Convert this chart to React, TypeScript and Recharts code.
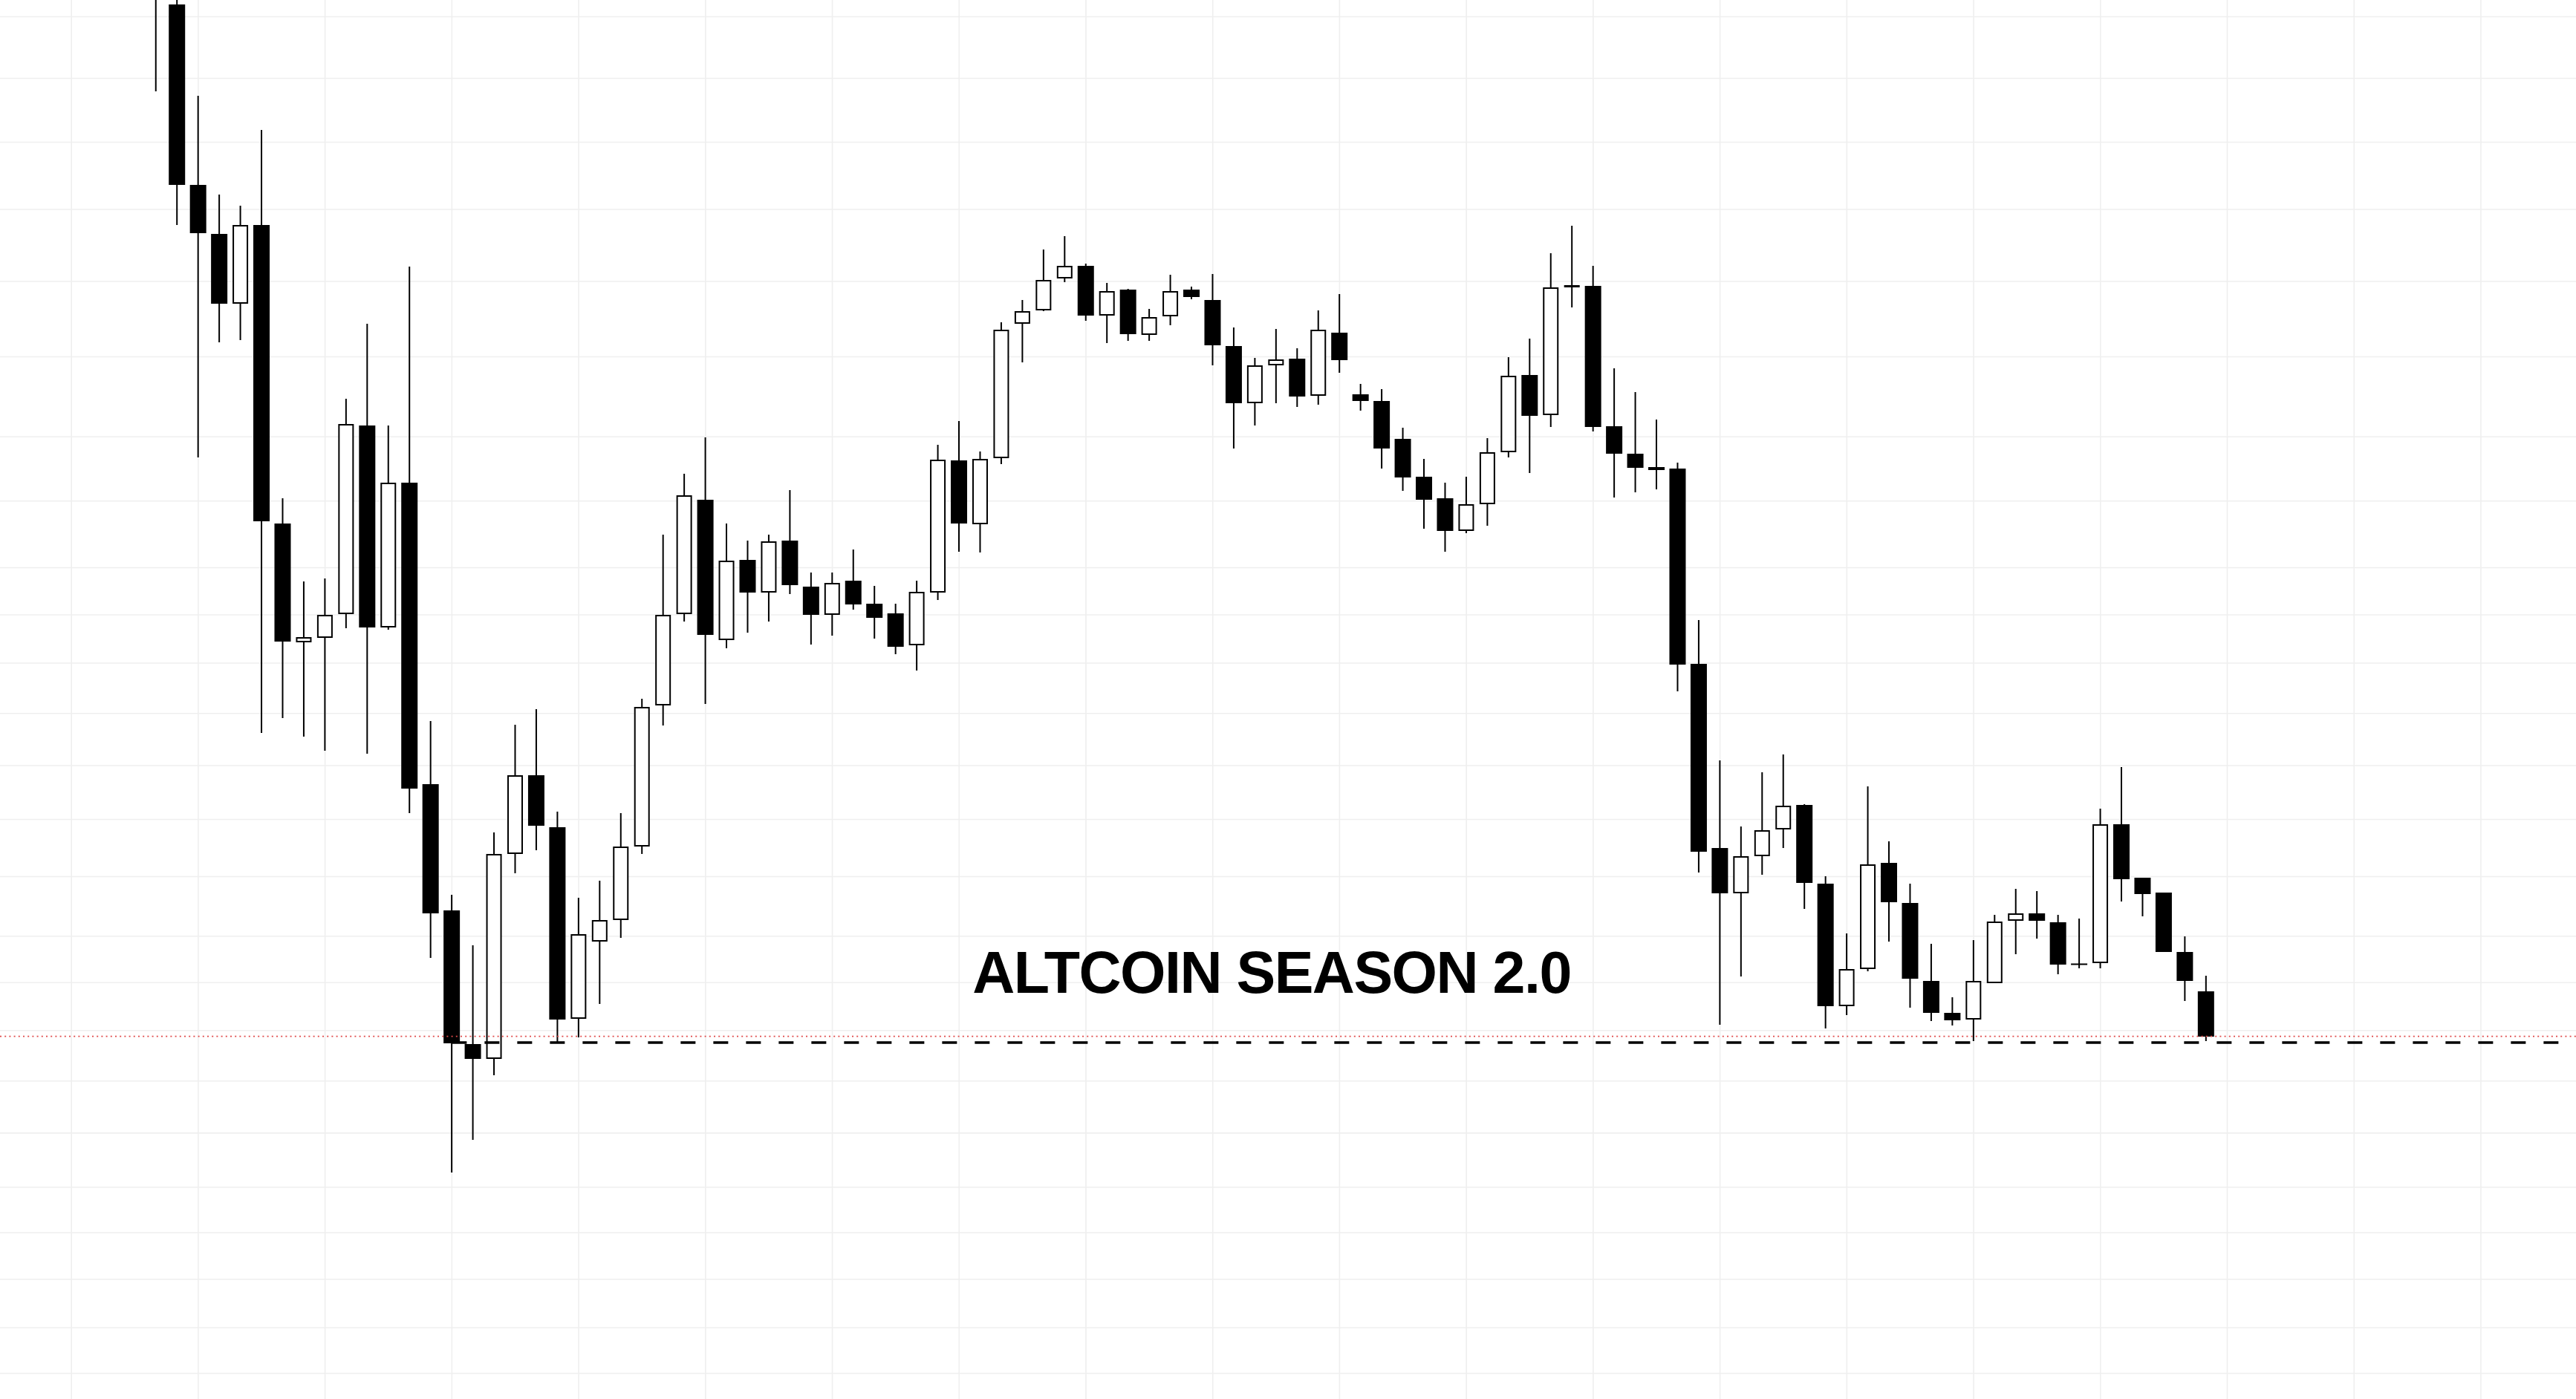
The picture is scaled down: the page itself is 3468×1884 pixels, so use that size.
import React from "react";
import {
  Bar,
  CartesianGrid,
  ComposedChart,
  ReferenceDot,
  ReferenceLine,
  XAxis,
  YAxis
} from "recharts";

// daily candles, price in chart units
const opens = [
  2300, 1994, 1751, 1685, 1591, 1697, 1295, 1135, 1141, 1173,
  1427, 1155, 1350, 944, 774, 594, 574, 850, 956, 886,
  628, 732, 761, 860, 1050, 1173, 1327, 1138, 1246, 1202,
  1272, 1210, 1172, 1218, 1187, 1174, 1131, 1202, 1380, 1294,
  1383, 1564, 1582, 1625, 1642, 1575, 1610, 1549, 1574, 1610,
  1596, 1534, 1457, 1508, 1517, 1467, 1552, 1469, 1460, 1409,
  1358, 1329, 1285, 1321, 1391, 1495, 1441, 1613, 1615, 1426,
  1389, 1371, 1369, 1106, 858, 797, 847, 883, 916, 810,
  645, 695, 838, 784, 679, 636, 627, 676, 760, 770,
  758, 702, 703, 890, 818, 798, 718, 665
];
const highs = [
  2350, 2015, 1871, 1738, 1723, 1825, 1329, 1217, 1221, 1463,
  1564, 1427, 1641, 1029, 795, 727, 879, 1024, 1045, 907,
  791, 814, 905, 1059, 1280, 1362, 1411, 1295, 1272, 1280,
  1340, 1229, 1229, 1260, 1211, 1187, 1218, 1401, 1433, 1392,
  1566, 1596, 1664, 1682, 1645, 1619, 1611, 1584, 1630, 1614,
  1631, 1559, 1518, 1557, 1531, 1582, 1604, 1483, 1476, 1424,
  1382, 1350, 1358, 1410, 1519, 1544, 1659, 1696, 1642, 1504,
  1472, 1435, 1377, 1165, 976, 887, 960, 984, 917, 820,
  743, 941, 867, 810, 729, 657, 734, 768, 803, 800,
  768, 763, 911, 967, 818, 798, 739, 686
];
const lows = [
  1877, 1697, 1384, 1539, 1542, 1013, 1033, 1008, 989, 1154,
  985, 1152, 905, 710, 421, 465, 552, 824, 855, 597,
  603, 648, 737, 850, 1023, 1163, 1052, 1127, 1148, 1163,
  1200, 1132, 1144, 1179, 1140, 1119, 1097, 1192, 1257, 1256,
  1375, 1512, 1581, 1620, 1568, 1538, 1541, 1541, 1562, 1597,
  1508, 1396, 1427, 1457, 1452, 1455, 1498, 1447, 1369, 1339,
  1288, 1257, 1282, 1292, 1384, 1363, 1425, 1586, 1419, 1330,
  1337, 1341, 1069, 825, 620, 685, 822, 858, 776, 615,
  633, 692, 732, 643, 625, 619, 598, 676, 715, 736,
  688, 696, 696, 786, 766, 718, 652, 598
];
const closes = [
  2020, 1751, 1686, 1591, 1697, 1298, 1136, 1142, 1172, 1429,
  1155, 1350, 938, 770, 595, 574, 850, 956, 888, 627,
  742, 761, 860, 1048, 1172, 1333, 1145, 1245, 1202, 1271,
  1212, 1172, 1215, 1186, 1168, 1129, 1203, 1381, 1295, 1382,
  1556, 1581, 1623, 1642, 1575, 1608, 1550, 1573, 1608, 1600,
  1535, 1457, 1508, 1516, 1466, 1556, 1515, 1460, 1396, 1357,
  1327, 1285, 1321, 1391, 1494, 1440, 1613, 1616, 1425, 1389,
  1370, 1367, 1105, 853, 797, 847, 882, 915, 811, 645,
  695, 836, 785, 682, 636, 626, 679, 759, 770, 760,
  701, 701, 890, 816, 796, 718, 679, 604
];

// grid levels of the (log) price scale and the time grid, in chart units
const priceGridLevels = [
  1977.5, 1894.5, 1808.5, 1718, 1621, 1519.5, 1411.7, 1325.3, 1235.5, 1172,
  1107, 1039.3, 969, 896.5, 819.5, 739.3, 676.8, 612.2, 544.2, 474.1,
  401.3, 340, 277.3, 212, 150.5
];
const timeGridTicks = [-4, 2, 8, 14, 20, 26, 32, 38, 44, 50, 56, 62, 68, 74, 80, 86, 92, 98, 104, 110];

const alertLevel = 604.4; // red dotted price line
const supportLevel = 596; // dashed horizontal ray
const supportStart = 14; // candle the ray starts from
const title = "ALTCOIN SEASON 2.0";

const X_DOMAIN: [number, number] = [-7.38, 114.5];
const Y_DOMAIN: [number, number] = [116, 2000];

const candles = opens.map((open, i) => ({
  i,
  open,
  high: highs[i],
  low: lows[i],
  close: closes[i]
}));

function Candle(props: any) {
  const { x, y, width, height, payload } = props;
  if (!payload) return null;
  const { open, close, high, low } = payload;
  const span = high - low || 1;
  const toY = (v: number) => y + ((high - v) / span) * height;
  const cx = x + width / 2;
  const up = close > open;
  let top = toY(Math.max(open, close));
  let bottom = toY(Math.min(open, close));
  if (bottom - top < 2) {
    const mid = (top + bottom) / 2;
    top = mid - 1;
    bottom = mid + 1;
  }
  return (
    <g>
      <line x1={cx} x2={cx} y1={y} y2={y + height} stroke="#000" strokeWidth={2} />
      {up ? (
        <rect
          x={x + 1.5}
          y={top + 1}
          width={width - 3}
          height={Math.max(bottom - top - 2, 0.5)}
          fill="#fff"
          stroke="#000"
          strokeWidth={2}
        />
      ) : (
        <rect x={x} y={top} width={width} height={bottom - top} fill="#000" />
      )}
    </g>
  );
}

export default function App() {
  return (
    <div style={{ position: "absolute", left: 0, top: 0, background: "#fff" }}>
      <ComposedChart
        width={3468}
        height={1884}
        data={candles}
        margin={{ top: 0, right: 0, bottom: 0, left: 0 }}
      >
        <CartesianGrid
          stroke="#efefef"
          strokeWidth={1.6}
          horizontalValues={priceGridLevels}
          verticalValues={timeGridTicks}
        />
        <XAxis
          hide
          type="number"
          dataKey="i"
          domain={X_DOMAIN}
          allowDataOverflow
          ticks={timeGridTicks}
          interval={0}
        />
        <YAxis
          hide
          type="number"
          domain={Y_DOMAIN}
          allowDataOverflow
          ticks={priceGridLevels}
          interval={0}
        />
        <ReferenceLine y={alertLevel} stroke="#e04a4a" strokeWidth={1.8} strokeDasharray="2 4.2" />
        <ReferenceLine
          segment={[
            { x: supportStart, y: supportLevel },
            { x: X_DOMAIN[1], y: supportLevel }
          ]}
          stroke="#000"
          strokeWidth={3.6}
          strokeDasharray="20 24"
        />
        <Bar
          dataKey={(d: any) => [d.low, d.high]}
          barSize={22}
          shape={(p: any) => <Candle {...p} />}
          isAnimationActive={false}
        />
        <ReferenceDot
          x={52.79}
          y={691.5}
          r={0}
          fill="none"
          stroke="none"
          label={{
            value: title,
            position: "center",
            fill: "#000",
            fontSize: 79,
            fontWeight: 700,
            fontFamily: "'Liberation Sans', Arial, sans-serif",
            letterSpacing: -1.5
          }}
        />
      </ComposedChart>
    </div>
  );
}
